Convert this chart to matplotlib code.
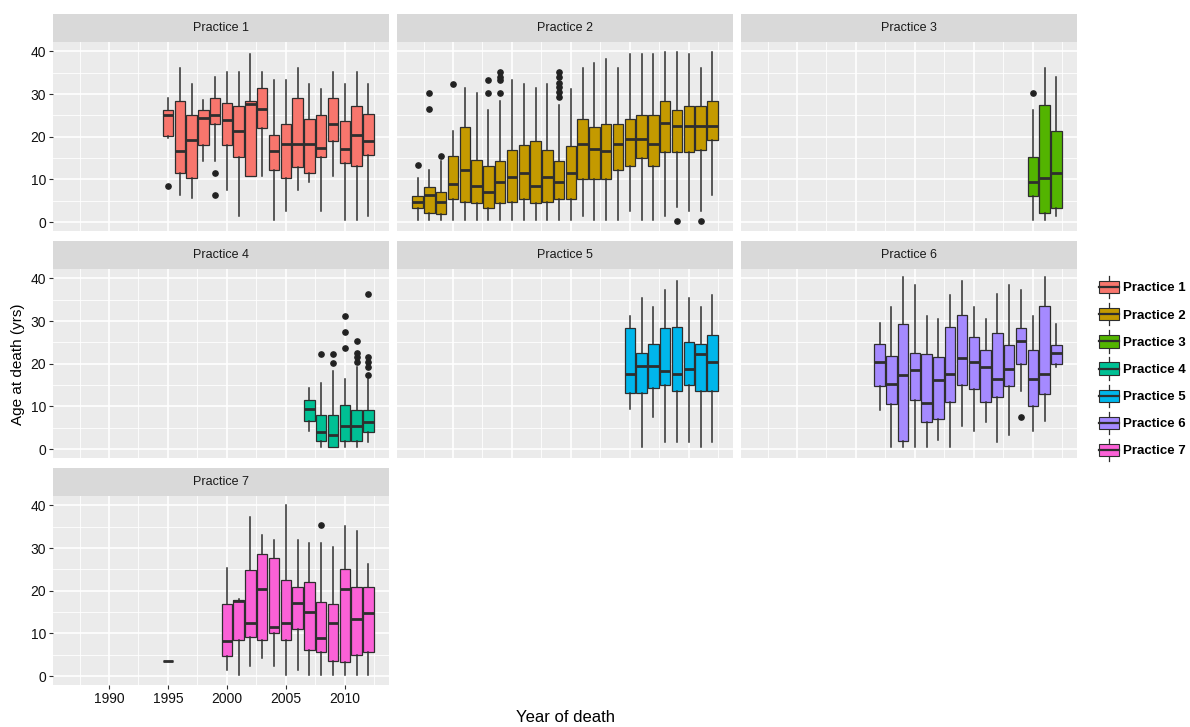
import matplotlib
matplotlib.use("Agg")
import matplotlib.pyplot as plt
from matplotlib.patches import Patch, Rectangle
from matplotlib.lines import Line2D
from matplotlib.legend_handler import HandlerBase

plt.rcParams['font.family'] = ['Liberation Sans', 'DejaVu Sans']

# Box summaries per practice: (year, lower whisker, Q1, median, Q3, upper whisker)
p1_boxes = [
    (1995, 19.8, 20.2, 25.0, 26.2, 29.1), (1996, 6.4, 11.4, 16.6, 28.4, 36.2),
    (1997, 5.6, 10.4, 19.3, 25.2, 32.4), (1998, 14.4, 18.1, 24.3, 26.2, 28.5),
    (1999, 14.4, 23.0, 25.0, 29.0, 34.1), (2000, 7.5, 18.1, 24.0, 28.0, 35.1),
    (2001, 1.4, 15.3, 21.3, 27.2, 35.1), (2002, 10.8, 10.8, 27.6, 28.4, 39.3),
    (2003, 10.8, 22.0, 26.6, 31.4, 35.1), (2004, 0.5, 12.1, 16.6, 20.5, 33.4),
    (2005, 2.5, 10.4, 18.3, 23.0, 33.4), (2006, 7.5, 12.9, 18.3, 29.0, 36.2),
    (2007, 9.5, 11.4, 18.3, 24.1, 32.4), (2008, 2.5, 15.3, 17.3, 25.0, 31.2),
    (2009, 10.8, 18.9, 22.9, 29.0, 35.1), (2010, 0.5, 13.9, 17.1, 23.7, 32.4),
    (2011, 0.5, 13.2, 20.4, 27.2, 35.1), (2012, 1.4, 15.6, 19.0, 25.4, 32.4),
]
p1_outliers = {1995: [8.5], 1999: [11.6, 6.3]}

p2_boxes = [
    (1987, 0.5, 3.2, 4.7, 6.2, 10.4), (1988, 0.5, 2.2, 6.3, 8.3, 12.2),
    (1989, 0.5, 1.9, 4.6, 7.0, 14.3), (1990, 0.5, 5.4, 8.9, 15.4, 21.3),
    (1991, 0.5, 4.8, 12.3, 22.3, 31.4), (1992, 0.5, 4.4, 8.4, 14.5, 30.2),
    (1993, 0.5, 3.2, 7.1, 13.1, 26.3), (1994, 0.5, 4.4, 9.5, 14.3, 28.4),
    (1995, 0.5, 4.8, 10.5, 16.9, 33.4), (1996, 0.5, 5.4, 11.6, 18.1, 32.4),
    (1997, 0.5, 4.4, 8.4, 19.1, 31.4), (1998, 0.5, 4.6, 10.5, 16.9, 32.4),
    (1999, 0.5, 5.4, 9.5, 14.3, 27.4), (2000, 0.5, 5.4, 11.6, 17.9, 31.2),
    (2001, 1.4, 10.2, 18.3, 24.1, 36.1), (2002, 0.5, 10.2, 17.2, 22.3, 37.2),
    (2003, 0.5, 10.2, 16.6, 23.0, 38.3), (2004, 0.5, 12.1, 18.3, 23.0, 36.1),
    (2005, 2.5, 13.2, 19.5, 24.1, 39.3), (2006, 0.5, 14.9, 19.5, 25.0, 39.3),
    (2007, 0.5, 13.1, 18.3, 25.0, 39.3), (2008, 1.4, 16.3, 23.3, 28.4, 39.9),
    (2009, 3.6, 16.3, 22.6, 26.2, 39.9), (2010, 2.5, 16.3, 22.6, 27.2, 39.3),
    (2011, 2.5, 16.9, 22.6, 27.2, 36.1), (2012, 6.4, 19.2, 22.6, 28.4, 39.9),
]
p2_outliers = {
    1987: [13.3], 1988: [30.3, 26.4], 1989: [15.4], 1990: [32.4],
    1993: [33.4, 30.3], 1994: [35.2, 33.9, 33.4, 30.3],
    1999: [35.2, 33.9, 32.7, 31.6, 30.4, 29.3], 2009: [0.2], 2011: [0.2],
}

p3_boxes = [
    (2010, 0.4, 6.0, 9.5, 15.3, 26.2), (2011, 0.4, 2.2, 10.4, 27.4, 36.1),
    (2012, 1.4, 3.2, 11.6, 21.3, 34.1),
]
p3_outliers = {2010: [30.3]}

p4_boxes = [
    (2007, 4.3, 6.6, 9.4, 11.6, 14.2), (2008, 0.5, 2.0, 4.1, 8.0, 15.4),
    (2009, 0.5, 0.5, 3.3, 8.0, 18.4), (2010, 0.5, 2.0, 5.4, 10.3, 16.3),
    (2011, 0.5, 2.0, 5.4, 9.1, 19.2), (2012, 1.6, 4.1, 6.4, 9.1, 16.3),
]
p4_outliers = {
    2008: [22.3], 2009: [22.3, 20.2], 2010: [31.2, 27.4, 23.6],
    2011: [25.4, 22.6, 21.5, 20.4], 2012: [36.3, 21.5, 20.4, 19.2, 17.4],
}

p5_boxes = [
    (2005, 9.4, 13.2, 17.7, 28.3, 31.2), (2006, 0.5, 13.2, 19.5, 22.6, 35.5),
    (2007, 7.6, 14.2, 19.5, 24.6, 33.3), (2008, 1.6, 15.1, 18.4, 28.3, 37.3),
    (2009, 1.6, 13.6, 17.5, 28.5, 39.4), (2010, 1.6, 15.1, 18.8, 25.0, 35.3),
    (2011, 0.5, 13.6, 22.3, 24.6, 33.3), (2012, 1.6, 13.6, 20.4, 26.8, 36.1),
]
p5_outliers = {}

p6_boxes = [
    (1997, 9.1, 14.8, 20.4, 24.6, 29.5), (1998, 0.5, 10.5, 15.3, 21.9, 33.3),
    (1999, 0.5, 1.9, 17.4, 29.3, 40.4), (2000, 0.5, 11.5, 18.6, 22.6, 38.4),
    (2001, 0.5, 6.3, 10.7, 22.2, 31.2), (2002, 2.2, 7.0, 16.1, 21.5, 30.5),
    (2003, 0.5, 11.1, 17.7, 28.5, 36.1), (2004, 5.4, 15.1, 21.4, 31.5, 39.4),
    (2005, 4.3, 14.0, 20.4, 26.2, 33.3), (2006, 6.4, 11.1, 19.2, 23.3, 30.5),
    (2007, 1.6, 12.2, 16.5, 27.2, 36.3), (2008, 3.2, 14.8, 18.8, 24.3, 38.4),
    (2009, 13.6, 20.0, 25.3, 28.3, 37.3), (2010, 4.3, 10.1, 16.5, 23.3, 31.2),
    (2011, 6.6, 12.9, 17.7, 33.6, 40.4), (2012, 19.2, 20.0, 22.5, 24.4, 29.3),
]
p6_outliers = {2009: [7.4]}

p7_boxes = [
    (1995, 3.5, 3.5, 3.5, 3.5, 3.5), (2000, 1.3, 4.6, 8.3, 16.8, 25.3),
    (2001, 0.2, 8.5, 17.6, 17.8, 18.1), (2002, 2.3, 9.2, 12.5, 24.9, 37.3),
    (2003, 4.2, 8.5, 20.5, 28.6, 33.0), (2004, 2.3, 10.2, 11.4, 27.6, 32.0),
    (2005, 0.2, 8.5, 12.4, 22.4, 40.2), (2006, 1.3, 11.0, 17.2, 20.9, 32.0),
    (2007, 0.2, 6.0, 15.0, 22.0, 31.3), (2008, 0.2, 5.6, 8.8, 17.4, 31.3),
    (2009, 0.2, 3.5, 12.5, 17.0, 30.2), (2010, 0.2, 3.3, 20.3, 25.1, 35.1),
    (2011, 0.2, 5.0, 13.3, 20.9, 34.0), (2012, 0.2, 5.7, 14.7, 20.9, 26.3),
]
p7_outliers = {2008: [35.3]}

practices = ["Practice 1", "Practice 2", "Practice 3", "Practice 4",
             "Practice 5", "Practice 6", "Practice 7"]
colors = ["#F8766D", "#C49A00", "#53B400", "#00C094", "#00B6EB", "#A58AFF", "#FB61D7"]
all_boxes = [p1_boxes, p2_boxes, p3_boxes, p4_boxes, p5_boxes, p6_boxes, p7_boxes]
all_outliers = [p1_outliers, p2_outliers, p3_outliers, p4_outliers,
                p5_outliers, p6_outliers, p7_outliers]

EDGE = "#2E2E2E"
W, H = 1190, 727
col_left = [53, 397, 741]
panel_w = 336
# (strip top, panel top, panel bottom) in pixels from the top
row_pix = [(14, 42, 231), (241, 269, 458), (468, 496, 685)]


def fig_rect(x, top, w, h):
    return [x / W, 1 - (top + h) / H, w / W, h / H]


class BoxKey(HandlerBase):
    def create_artists(self, legend, orig_handle, xdescent, ydescent,
                       width, height, fontsize, trans):
        x0, y0 = -xdescent, -ydescent
        cx = x0 + width / 2
        fc = orig_handle.get_facecolor()
        lo = Line2D([cx, cx], [y0 - height * 0.2, y0 + height * 0.12],
                    color=EDGE, lw=0.9, transform=trans)
        hi = Line2D([cx, cx], [y0 + height * 0.88, y0 + height * 1.2],
                    color=EDGE, lw=0.9, transform=trans)
        box = Rectangle((x0, y0 + height * 0.12), width, height * 0.76,
                        facecolor=fc, edgecolor=EDGE, lw=0.8, transform=trans)
        med = Line2D([x0, x0 + width], [y0 + height * 0.5] * 2,
                     color=EDGE, lw=1.6, transform=trans)
        return [lo, hi, box, med]


fig = plt.figure(figsize=(W / 100, H / 100), dpi=100)

for i, name in enumerate(practices):
    r, c = divmod(i, 3)
    s_top, p_top, p_bot = row_pix[r]
    x = col_left[c]

    # strip header
    sax = fig.add_axes(fig_rect(x, s_top, panel_w, p_top - s_top))
    sax.set_facecolor("#D9D9D9")
    sax.set_xticks([])
    sax.set_yticks([])
    for sp in sax.spines.values():
        sp.set_visible(False)
    sax.text(0.5, 0.5, name, ha="center", va="center", fontsize=9,
             color="#1A1A1A", transform=sax.transAxes)

    ax = fig.add_axes(fig_rect(x, p_top, panel_w, p_bot - p_top))
    ax.set_facecolor("#EBEBEB")
    for sp in ax.spines.values():
        sp.set_visible(False)

    stats = []
    years = []
    for (yr, lo, q1, med, q3, hi) in all_boxes[i]:
        stats.append(dict(whislo=lo, q1=q1, med=med, q3=q3, whishi=hi,
                          fliers=all_outliers[i].get(yr, [])))
        years.append(yr)
    ax.bxp(stats, positions=years, widths=0.88, patch_artist=True,
           showcaps=False, manage_ticks=False,
           boxprops=dict(facecolor=colors[i], edgecolor=EDGE, lw=0.9),
           medianprops=dict(color=EDGE, lw=2.0, solid_capstyle="butt"),
           whiskerprops=dict(color=EDGE, lw=1.1),
           flierprops=dict(marker="o", markerfacecolor="#222222",
                           markeredgecolor="#222222", markersize=3.8))

    ax.set_xlim(1985.25, 2013.75)
    ax.set_ylim(-2.1, 42.2)
    ax.set_xticks([1990, 1995, 2000, 2005, 2010])
    ax.set_xticks([1987.5, 1992.5, 1997.5, 2002.5, 2007.5, 2012.5], minor=True)
    ax.set_yticks([0, 10, 20, 30, 40])
    ax.set_yticks([5, 15, 25, 35], minor=True)
    ax.grid(which="major", color="white", lw=1.2)
    ax.grid(which="minor", color="white", lw=0.6)
    ax.set_axisbelow(True)
    ax.tick_params(which="minor", length=0)
    ax.tick_params(which="major", length=3, width=0.8, color=EDGE,
                   labelsize=10, labelcolor="#111111", pad=2)

    if c != 0:
        ax.tick_params(axis="y", length=0, labelleft=False)
    if i != 6:
        ax.tick_params(axis="x", length=0, labelbottom=False)

fig.text(18 / W, 1 - 364 / H, "Age at death (yrs)", rotation=90,
         ha="center", va="center", fontsize=11, color="black")
fig.text(565 / W, 1 - 718 / H, "Year of death", ha="center", va="center",
         fontsize=12, color="black")

handles = [Patch(facecolor=col) for col in colors]
fig.legend(handles, practices, handler_map={Patch: BoxKey()},
           loc="upper left", bbox_to_anchor=(1099 / W, 1 - 279 / H),
           frameon=False, handlelength=1.5, handleheight=1.5,
           handletextpad=0.35, labelspacing=0.84, borderpad=0, borderaxespad=0,
           prop=dict(weight="bold", size=9.5))

fig.savefig("out.png", dpi=100)
